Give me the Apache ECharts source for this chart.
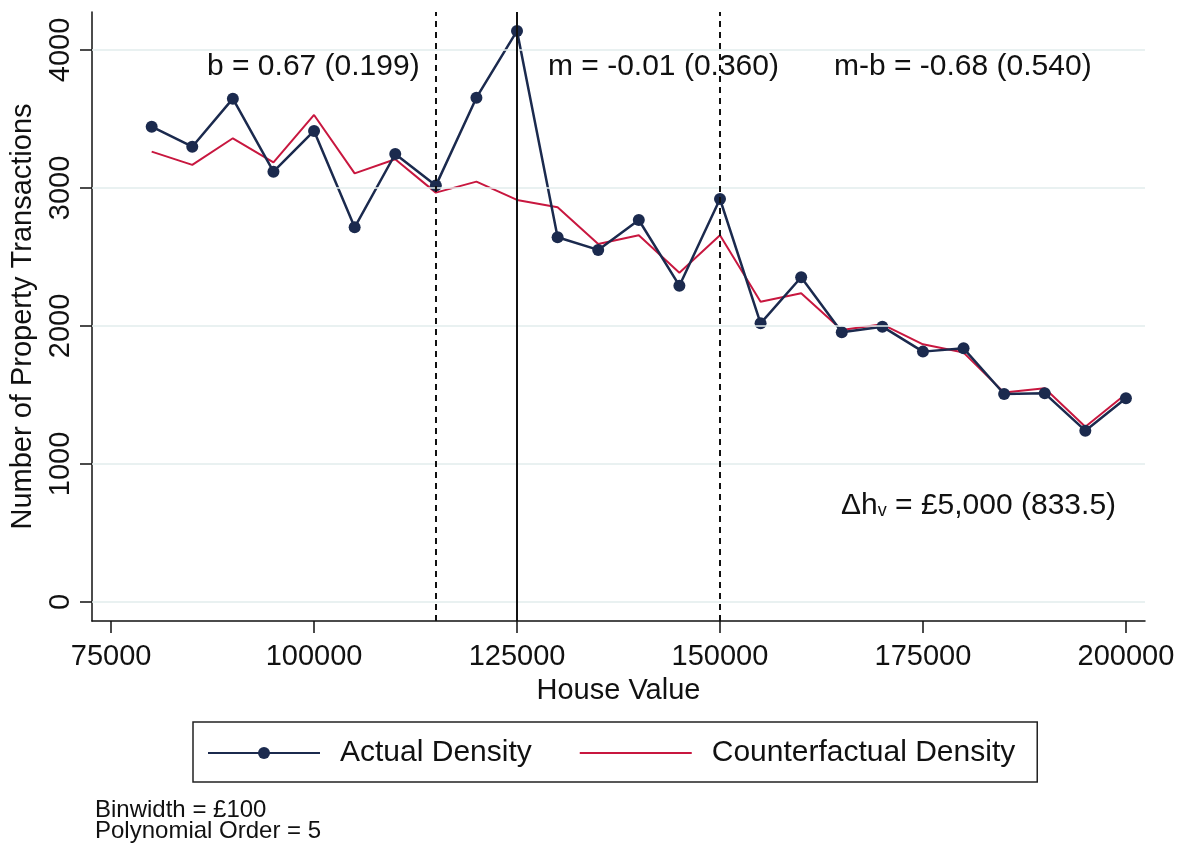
<!DOCTYPE html>
<html>
<head>
<meta charset="utf-8">
<script src="https://cdn.jsdelivr.net/npm/echarts@6/dist/echarts.min.js"></script>
<style>
  html, body { margin: 0; padding: 0; background: #fff; }
  #chart { width: 1187px; height: 850px; }
</style>
</head>
<body>
<div id="chart"></div>
<script>
// house value bins (x)
var houseValues = [80000, 85000, 90000, 95000, 100000, 105000, 110000, 115000, 120000, 125000,
  130000, 135000, 140000, 145000, 150000, 155000, 160000, 165000, 170000, 175000,
  180000, 185000, 190000, 195000, 200000];
var actualDensity = [3444, 3299, 3647, 3118, 3413, 2715, 3246, 3017, 3654, 4138,
  2643, 2551, 2768, 2292, 2920, 2019, 2353, 1954, 1995, 1814,
  1838, 1507, 1512, 1241, 1476];
var counterfactualDensity = [3263, 3167, 3360, 3186, 3529, 3106, 3208, 2966, 3046, 2913,
  2860, 2594, 2657, 2386, 2657, 2176, 2237, 1971, 2012, 1867,
  1807, 1517, 1548, 1270, 1507];
var xTicks = [75000, 100000, 125000, 150000, 175000, 200000];
var yTicks = [0, 1000, 2000, 3000, 4000];
var dashedCuts = [115000, 150000];
var notchCut = [125000];

var font = 'Liberation Sans, Arial, sans-serif';
var navy = '#1b2a4e';
var red = '#c8173f';

function pairs(xs, ys) {
  return xs.map(function (x, i) { return [x, ys[i]]; });
}
function plain(v) { return String(v); }

var cutLines = dashedCuts.map(function (v) {
  return { xAxis: v, lineStyle: { type: [6, 5], width: 2, color: '#111' } };
}).concat(notchCut.map(function (v) {
  return { xAxis: v, lineStyle: { type: 'solid', width: 2, color: '#111' } };
}));

var gridLines = yTicks.map(function (v) { return { yAxis: v }; });

var chart = echarts.init(document.getElementById('chart'));
chart.setOption({
  animation: false,
  backgroundColor: '#fff',
  textStyle: { fontFamily: font },
  grid: { left: 91, right: 42, top: 12, bottom: 229 },
  xAxis: {
    type: 'value',
    min: 72650,
    max: 202350,
    name: 'House Value',
    nameLocation: 'middle',
    nameGap: 55,
    nameTextStyle: { fontSize: 29, color: '#111', fontFamily: font },
    axisLine: { onZero: false, lineStyle: { color: '#111', width: 1.5 } },
    axisTick: { customValues: xTicks, length: 12, lineStyle: { color: '#111', width: 1.5 } },
    axisLabel: { customValues: xTicks, formatter: plain, margin: 21, fontSize: 29, color: '#111', fontFamily: font },
    splitLine: { show: false }
  },
  yAxis: {
    type: 'value',
    min: -138,
    max: 4275,
    name: 'Number of Property Transactions',
    nameLocation: 'middle',
    nameRotate: 90,
    nameGap: 55,
    nameTextStyle: { fontSize: 29, color: '#111', fontFamily: font },
    axisLine: { show: true, onZero: false, lineStyle: { color: '#111', width: 1.5 } },
    axisTick: { show: true, customValues: yTicks, length: 12, lineStyle: { color: '#111', width: 1.5 } },
    axisLabel: { customValues: yTicks, formatter: plain, rotate: 90, margin: 17, fontSize: 29, color: '#111', fontFamily: font },
    splitLine: { show: false }
  },
  legend: {
    left: 193,
    top: 722,
    padding: [16, 22, 14, 14],
    borderColor: '#222',
    borderWidth: 1.5,
    itemGap: 47,
    itemWidth: 112,
    itemHeight: 15,
    textStyle: { fontSize: 30, color: '#111', fontFamily: font, padding: [0, 0, 0, 15] },
    data: [
      { name: 'Actual Density' },
      { name: 'Counterfactual Density', itemStyle: { opacity: 0 } }
    ]
  },
  series: [
    {
      name: 'grid',
      type: 'line',
      data: [],
      silent: true,
      markLine: {
        silent: true,
        symbol: 'none',
        label: { show: false },
        lineStyle: { color: '#e2eced', width: 1.5, type: 'solid' },
        data: gridLines
      }
    },
    {
      name: 'Actual Density',
      type: 'line',
      data: pairs(houseValues, actualDensity),
      symbol: 'circle',
      symbolSize: 12,
      z: 3,
      itemStyle: { color: navy },
      lineStyle: { color: navy, width: 2.5 },
      markLine: {
        silent: true,
        symbol: 'none',
        label: { show: false },
        data: cutLines
      }
    },
    {
      name: 'Counterfactual Density',
      type: 'line',
      data: pairs(houseValues, counterfactualDensity),
      symbol: 'none',
      showSymbol: false,
      z: 2,
      itemStyle: { color: red },
      lineStyle: { color: red, width: 2 }
    }
  ],
  graphic: [
    { type: 'text', left: 207, top: 52, style: { text: 'b = 0.67 (0.199)', font: '30px ' + font, fill: '#111' } },
    { type: 'text', left: 548, top: 52, style: { text: 'm = -0.01 (0.360)', font: '30px ' + font, fill: '#111' } },
    { type: 'text', left: 834, top: 52, style: { text: 'm-b = -0.68 (0.540)', font: '30px ' + font, fill: '#111' } },
    {
      type: 'text', left: 841, top: 491,
      style: {
        text: 'Δh{sub|v} = £5,000 (833.5)',
        font: '30px ' + font, fill: '#111',
        rich: { sub: { fontSize: 18, fontFamily: font, padding: [10, 0, 0, 0], fill: '#111' } }
      }
    },
    {
      type: 'text', left: 95, top: 798,
      style: { text: 'Binwidth = £100\nPolynomial Order = 5', font: '24px ' + font, lineHeight: 21, fill: '#111' }
    }
  ]
});
</script>
</body>
</html>
